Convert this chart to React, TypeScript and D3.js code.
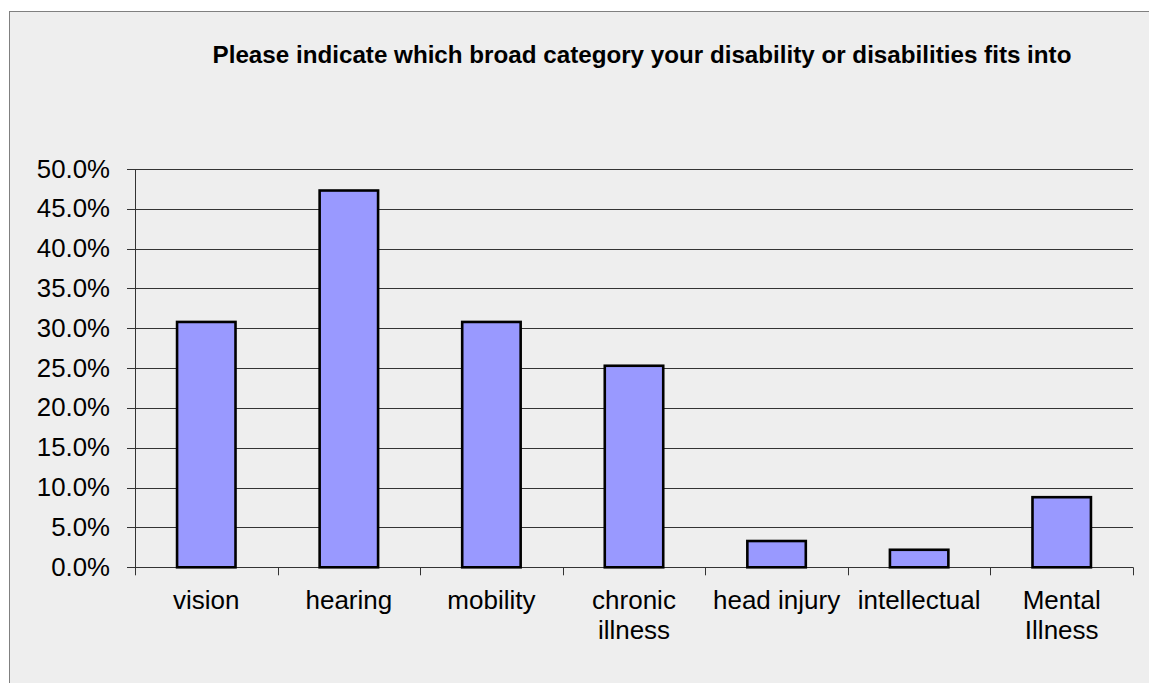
import React from "react";
import * as d3 from "d3";

const categories: string[][] = [
  ["vision"],
  ["hearing"],
  ["mobility"],
  ["chronic", "illness"],
  ["head injury"],
  ["intellectual"],
  ["Mental", "Illness"],
];
const values: number[] = [0.308, 0.473, 0.308, 0.253, 0.033, 0.022, 0.088];
const yTicks: number[] = [0, 0.05, 0.1, 0.15, 0.2, 0.25, 0.3, 0.35, 0.4, 0.45, 0.5];
const title = "Please indicate which broad category your disability or disabilities fits into";

const W = 1149;
const H = 683;
const left = 135;
const right = 1133;
const top = 169;
const bottom = 567.3;

export default function App() {
  const keys = categories.map((_, i) => String(i));
  const x = d3.scaleBand<string>().domain(keys).range([left, right]).paddingInner(0.59).paddingOuter(0.295);
  const band = d3.scaleBand<string>().domain(keys).range([left, right]);
  const y = d3.scaleLinear().domain([0, 0.5]).range([bottom, top]);
  const fmt = d3.format(".1%");
  const font = "'Liberation Sans', Arial, sans-serif";
  return (
    <svg width={W} height={H} style={{ position: "absolute", left: 0, top: 0 }}>
      <rect x={9.5} y={11.5} width={W + 10} height={H + 10} fill="#eeeeee" stroke="#808080" strokeWidth={1} />
      <text x={642} y={62.5} textAnchor="middle" fontFamily={font} fontWeight="bold" fontSize={24.2} fill="#000">
        {title}
      </text>
      {yTicks.map((t) => (
        <g key={t}>
          <line x1={127} x2={right} y1={Math.round(y(t)) + 0.5} y2={Math.round(y(t)) + 0.5} stroke="#333" strokeWidth={1} />
          <text x={110} y={y(t) + 8.5} textAnchor="end" fontFamily={font} fontSize={25.8} fill="#000">
            {fmt(t)}
          </text>
        </g>
      ))}
      <line x1={left + 0.5} x2={left + 0.5} y1={top} y2={bottom + 8} stroke="#333" strokeWidth={1} />
      {keys.map((k) => {
        const xe = (band(k) as number) + band.bandwidth();
        return <line key={"t" + k} x1={Math.round(xe) + 0.5} x2={Math.round(xe) + 0.5} y1={bottom} y2={bottom + 8} stroke="#333" />;
      })}
      {values.map((v, i) => (
        <rect
          key={"b" + i}
          x={x(String(i)) as number}
          y={y(v)}
          width={x.bandwidth()}
          height={bottom - y(v)}
          fill="#9999ff"
          stroke="#000"
          strokeWidth={2.6}
        />
      ))}
      {categories.map((lines, i) => {
        const cx = (band(String(i)) as number) + band.bandwidth() / 2;
        return (
          <text key={"c" + i} x={cx} textAnchor="middle" fontFamily={font} fontSize={26} fill="#000">
            {lines.map((l, j) => (
              <tspan key={j} x={cx} y={608.5 + j * 30}>
                {l}
              </tspan>
            ))}
          </text>
        );
      })}
    </svg>
  );
}
